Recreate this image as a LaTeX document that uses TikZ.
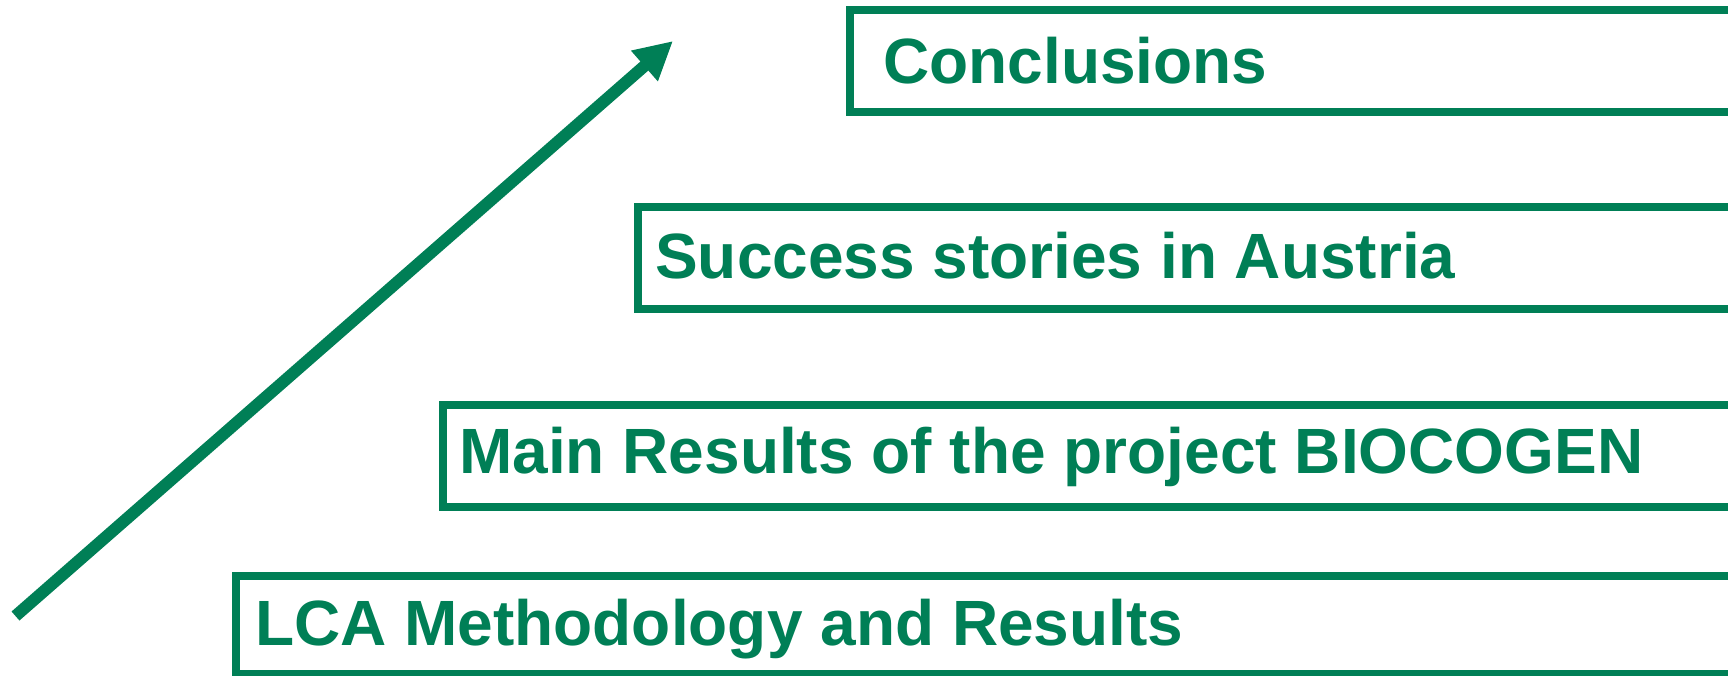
\documentclass[tikz,border=0pt]{standalone}
\usepackage{fontspec}
\setmainfont{Liberation Sans}
\usetikzlibrary{arrows.meta}
\definecolor{lcagreen}{RGB}{0,127,86}
\begin{document}
\begin{tikzpicture}[x=1pt,y=1pt,
  framebox/.style={draw=lcagreen,line width=8pt},
  label/.style={anchor=base west,inner sep=0pt,text=lcagreen,font=\fontsize{64}{70}\selectfont\bfseries}]
\useasboundingbox (0,0) rectangle (1728,-676);
\clip (0,0) rectangle (1728,-676);
\draw[framebox] (850,-10) rectangle (1760,-112);
\draw[framebox] (637.5,-207.5) rectangle (1760,-309);
\draw[framebox] (442.5,-405) rectangle (1760,-507);
\draw[framebox] (236,-576) rectangle (1760,-674);
\node[label] (c) at (883,-84) {Conclusions};
\node[label] (s) at (655,-278) {Success stories in Austria};
\node[label] (m) at (459,-473) {Main Results of the project BIOCOGEN};
\node[label] (l) at (255,-645) {LCA Methodology and Results};
\coordinate (tail) at (15.5,-616);
\coordinate (tip) at (673,-41);
\draw[lcagreen,line width=12pt,-{Triangle[length=38pt,width=38pt]}] (tail) -- (tip);
\end{tikzpicture}
\end{document}
